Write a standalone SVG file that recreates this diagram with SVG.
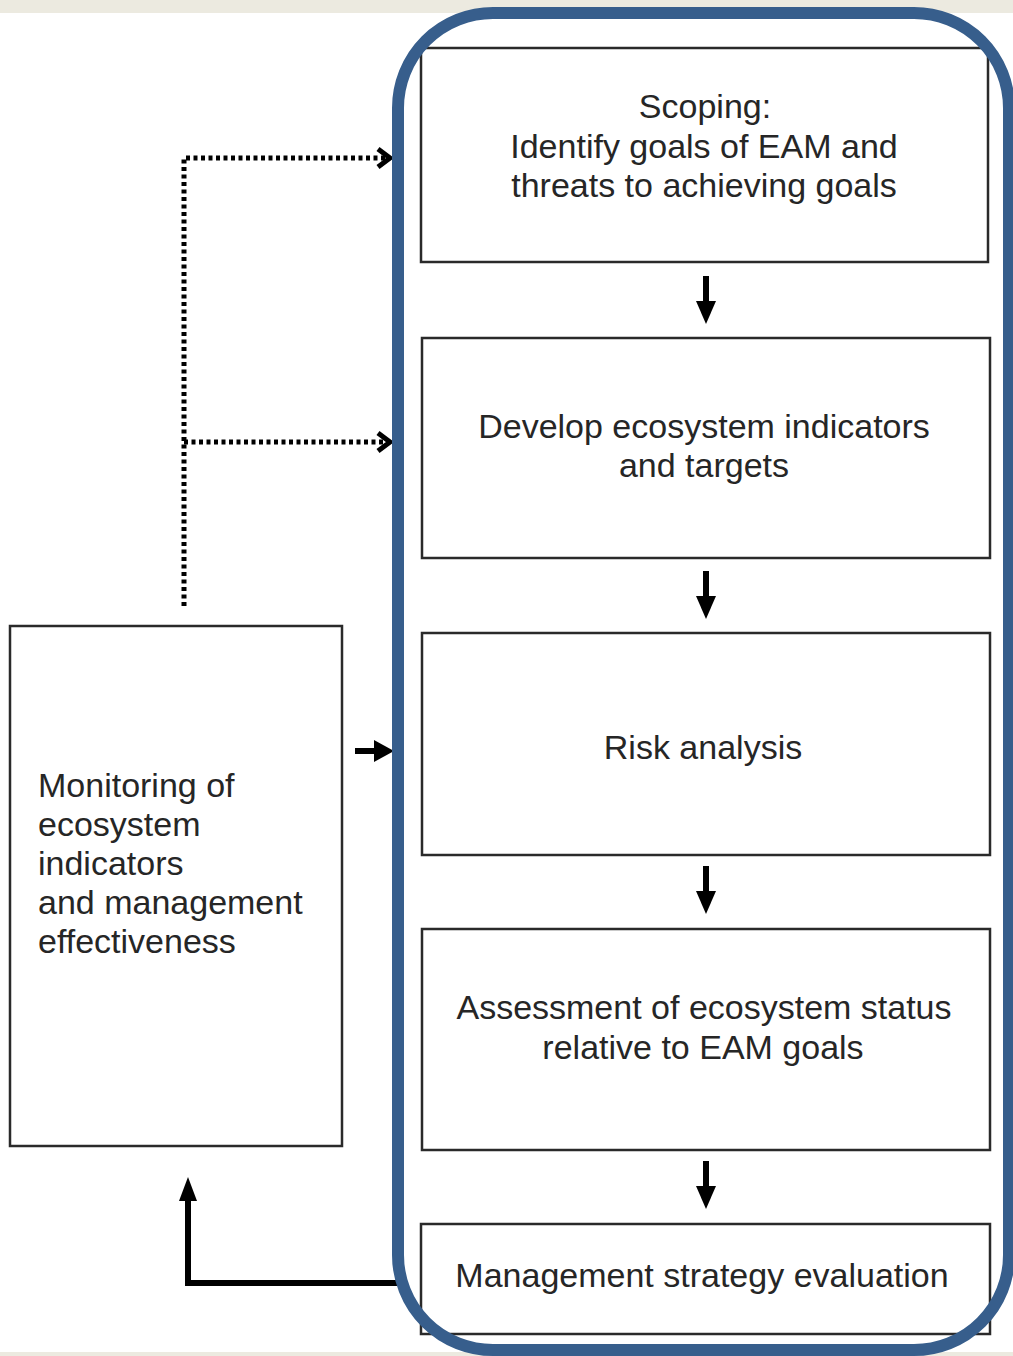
<svg xmlns="http://www.w3.org/2000/svg" width="1013" height="1356" viewBox="0 0 1013 1356">
<defs>
<style>
.box{fill:#fff;stroke:#2a2a2a;stroke-width:2.5}
.t{font-family:"Liberation Sans",Arial,sans-serif;font-size:34px;fill:#262626}
.c{text-anchor:middle}
.solid{fill:none;stroke:#000;stroke-width:6}
.dot{fill:none;stroke:#000;stroke-width:5;stroke-dasharray:4 3.5}
.head{fill:#000}
.chev{fill:none;stroke:#000;stroke-width:5}
</style>
</defs>
<rect x="0" y="0" width="1013" height="1356" fill="#fff"/>
<rect x="0" y="0" width="1013" height="13" fill="#ECEAE0"/>
<rect x="0" y="1352" width="1013" height="4" fill="#ECEAE0"/>

<g id="monitoring">
<rect class="box" x="10" y="626" width="332" height="520"/>
<text class="t" x="38" y="797">Monitoring of</text>
<text class="t" x="38" y="836">ecosystem</text>
<text class="t" x="38" y="875">indicators</text>
<text class="t" x="38" y="914">and management</text>
<text class="t" x="38" y="953">effectiveness</text>
</g>

<g id="scoping">
<rect class="box" x="421" y="48" width="567" height="214"/>
<text class="t c" x="705" y="118">Scoping:</text>
<text class="t c" x="704" y="158">Identify goals of EAM and</text>
<text class="t c" x="704" y="197">threats to achieving goals</text>
</g>

<g id="indicators">
<rect class="box" x="422" y="338" width="568" height="220"/>
<text class="t c" x="704" y="438">Develop ecosystem indicators</text>
<text class="t c" x="704" y="477">and targets</text>
</g>

<g id="risk">
<rect class="box" x="422" y="633" width="568" height="222"/>
<text class="t c" x="703" y="759">Risk analysis</text>
</g>

<g id="assessment">
<rect class="box" x="422" y="929" width="568" height="221"/>
<text class="t c" x="704" y="1019">Assessment of ecosystem status</text>
<text class="t c" x="703" y="1059">relative to EAM goals</text>
</g>

<g id="mse">
<rect class="box" x="421" y="1224" width="569" height="110"/>
<text class="t c" x="702" y="1287">Management strategy evaluation</text>
</g>

<g id="connectors">
<path class="solid" d="M706 276V304"/><path class="head" d="M696 301H716L706 324Z"/>
<path class="solid" d="M706 571V599"/><path class="head" d="M696 596H716L706 619Z"/>
<path class="solid" d="M706 866V894"/><path class="head" d="M696 891H716L706 914Z"/>
<path class="solid" d="M706 1161V1189"/><path class="head" d="M696 1186H716L706 1209Z"/>
<path class="solid" d="M355 751H378"/><path class="head" d="M374 740V762L394 751Z"/>
<path class="dot" d="M184 606V158H386"/>
<path class="chev" d="M378 149L390 158L378 167"/>
<path class="dot" d="M184 442H386"/>
<path class="chev" d="M378 433L390 442L378 451"/>
<path class="solid" d="M398 1283H188V1198"/><path class="head" d="M179 1201H197L188 1177Z"/>
</g>

<g id="frame">
<rect x="398" y="13" width="611" height="1337" rx="95" ry="95" fill="none" stroke="#375E8C" stroke-width="12"/>
</g>
</svg>
